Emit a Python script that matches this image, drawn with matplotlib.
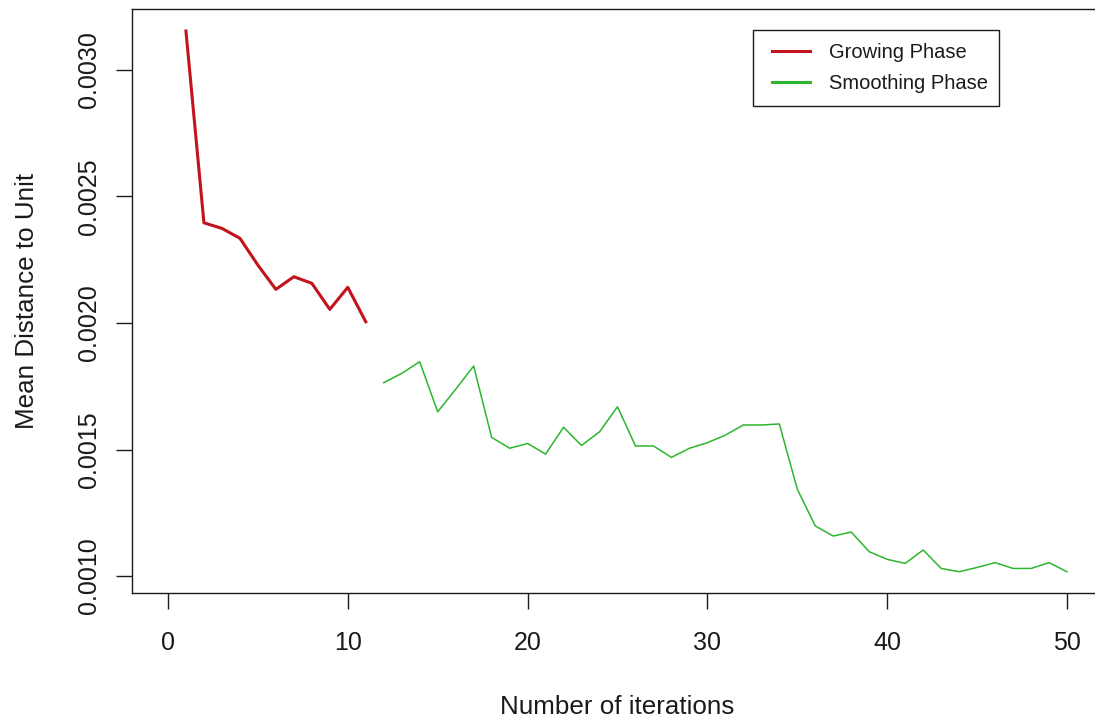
import matplotlib
matplotlib.use("Agg")
import matplotlib.pyplot as plt
from matplotlib.lines import Line2D
from matplotlib.legend_handler import HandlerLine2D

plt.rcParams['font.family'] = ['Liberation Sans', 'DejaVu Sans']

# Growing phase: iterations 1-11
grow_iter = list(range(1, 12))
grow_dist = [0.003154, 0.002396, 0.002374, 0.002335, 0.002229, 0.002133,
             0.002183, 0.002157, 0.002054, 0.002141, 0.002005]

# Smoothing phase: iterations 12-50
smooth_iter = list(range(12, 51))
smooth_dist = [0.001764, 0.001801, 0.001847, 0.001649, 0.001738, 0.001830,
               0.001548, 0.001505, 0.001524, 0.001482, 0.001588, 0.001516,
               0.001570, 0.001669, 0.001514, 0.001514, 0.001469, 0.001505,
               0.001527, 0.001557, 0.001597, 0.001597, 0.001601, 0.001343,
               0.001198, 0.001158, 0.001174, 0.001096, 0.001066, 0.001050,
               0.001103, 0.001030, 0.001017, 0.001034, 0.001053, 0.001030,
               0.001030, 0.001053, 0.001017]

x_ticks = [0, 10, 20, 30, 40, 50]
y_ticks = [0.0010, 0.0015, 0.0020, 0.0025, 0.0030]
y_tick_labels = ["0.0010", "0.0015", "0.0020", "0.0025", "0.0030"]

red = "#c4121d"
green = "#2db52d"
ink = "#1a1a1a"

fig = plt.figure(figsize=(10.95, 7.2), dpi=100)
ax = fig.add_axes([132 / 1095, 127 / 720, 971 / 1095, 584 / 720])

ax.plot(grow_iter, grow_dist, color=red, lw=2.2)
ax.plot(smooth_iter, smooth_dist, color=green, lw=1.1)

ax.set_xlim(-2, 52)
ax.set_ylim(0.000933, 0.003241)

ax.set_xticks(x_ticks)
ax.set_xticklabels([str(t) for t in x_ticks])
ax.set_yticks(y_ticks)
ax.set_yticklabels(y_tick_labels, rotation=90, va='center')

ax.tick_params(axis='both', direction='out', length=11.5, width=1.0,
               labelsize=18, colors=ink)
ax.tick_params(axis='x', pad=16)
ax.tick_params(axis='y', pad=11)

for s in ax.spines.values():
    s.set_linewidth(1.0)
    s.set_color(ink)

ax.set_xlabel("Number of iterations", fontsize=18.7, labelpad=28.5, color=ink)
ax.set_ylabel("Mean Distance to Unit", fontsize=18.7, labelpad=27, color=ink)

handles = [Line2D([], [], color=red, lw=2.2),
           Line2D([], [], color=green, lw=2.2)]
x0 = (753 - 132) / 971
w = (999 - 753) / 971
y_top = (593 - 30) / 584
leg = ax.legend(handles, ["Growing Phase", "Smoothing Phase"],
                loc='upper left', bbox_to_anchor=(x0, y_top - 0.2, w, 0.2),
                mode='expand', fontsize=14.5, frameon=True, fancybox=False,
                framealpha=1, edgecolor=ink, handlelength=2.17,
                handletextpad=0.95, borderpad=0.67, labelspacing=0.55,
                borderaxespad=0,
                handler_map={Line2D: HandlerLine2D(xpad=0.28)})
leg.get_frame().set_linewidth(1.0)
for t in leg.get_texts():
    t.set_color(ink)

fig.savefig("out.png", dpi=100, facecolor='white')
